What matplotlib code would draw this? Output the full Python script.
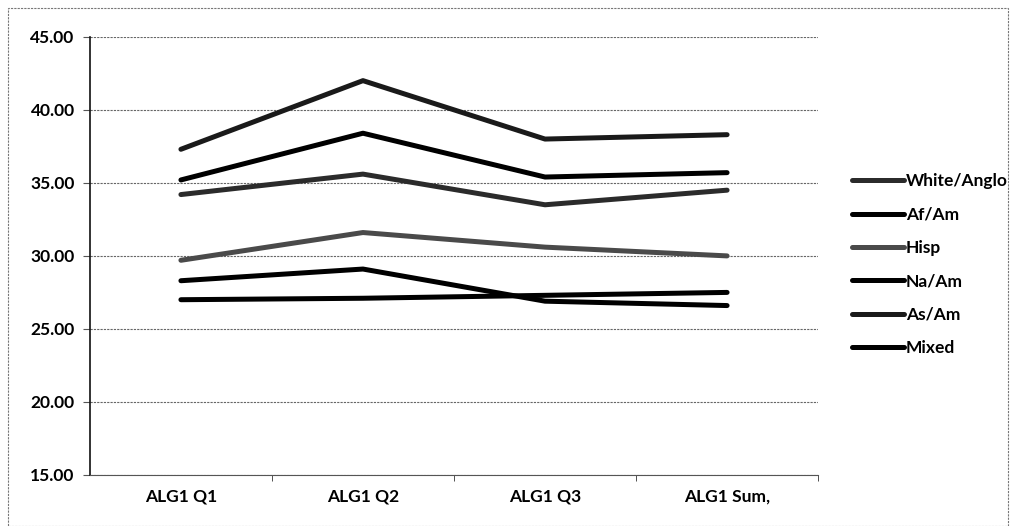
import matplotlib
matplotlib.use("Agg")
import matplotlib.pyplot as plt
from matplotlib.patches import Rectangle

categorias = ["ALG1 Q1", "ALG1 Q2", "ALG1 Q3", "ALG1 Sum,"]
series = ["White/Anglo", "Af/Am", "Hisp", "Na/Am", "As/Am", "Mixed"]

white_anglo = [34.2, 35.6, 33.5, 34.5]
af_am = [28.3, 29.1, 26.9, 26.6]
hisp = [29.7, 31.6, 30.6, 30.0]
na_am = [27.0, 27.1, 27.3, 27.5]
as_am = [37.3, 42.0, 38.0, 38.3]
mixed = [35.2, 38.4, 35.4, 35.7]

valores = [white_anglo, af_am, hisp, na_am, as_am, mixed]
cores = ["#2b2b2b", "#000000", "#4a4a4a", "#000000", "#1a1a1a", "#000000"]

plt.rcParams["font.family"] = ["Lato", "DejaVu Sans"]

fig = plt.figure(figsize=(10.1, 5.26), dpi=100)
ax = fig.add_axes([0.089, 0.097, 0.721, 0.833])

x = list(range(len(categorias)))
for nome, vals, cor in zip(series, valores, cores):
    ax.plot(x, vals, color=cor, linewidth=3.6, solid_capstyle="round", label=nome)

ax.set_xlim(-0.5, len(categorias) - 0.5)
ax.set_ylim(15, 45)
ax.set_yticks(range(15, 46, 5))
ax.set_yticklabels([f"{v:.2f}" for v in range(15, 46, 5)], fontsize=12.5, fontweight="bold")
ax.set_xticks(x)
ax.set_xticklabels(categorias, fontsize=12.5, fontweight="bold")
ax.set_xticks([i + 0.5 for i in x], minor=True)
ax.tick_params(axis="x", which="major", length=0, pad=10)
ax.tick_params(axis="x", which="minor", length=4, direction="out", color="#333333")
ax.tick_params(axis="y", length=5, direction="out", color="#555555", pad=6)

ax.yaxis.grid(True, linestyle=(0, (2, 1)), color="#666666", linewidth=0.8)
ax.set_axisbelow(True)
for lado in ["top", "right"]:
    ax.spines[lado].set_visible(False)
ax.spines["left"].set_color("#111111")
ax.spines["left"].set_linewidth(1.2)
ax.spines["bottom"].set_linestyle((0, (2, 1)))
ax.spines["bottom"].set_color("#555555")

leg = ax.legend(loc="center left", bbox_to_anchor=(1.025, 0.48), frameon=False,
                fontsize=12.5, handlelength=3.0, handletextpad=0.1, labelspacing=1.0)
for t in leg.get_texts():
    t.set_fontweight("bold")

# moldura pontilhada do grafico
fig.patches.append(Rectangle((0.008, 0.0), 0.99, 0.985, transform=fig.transFigure,
                             fill=False, linestyle=(0, (2, 1)), edgecolor="#777777",
                             linewidth=0.8))

fig.savefig("out.png", dpi=100)
